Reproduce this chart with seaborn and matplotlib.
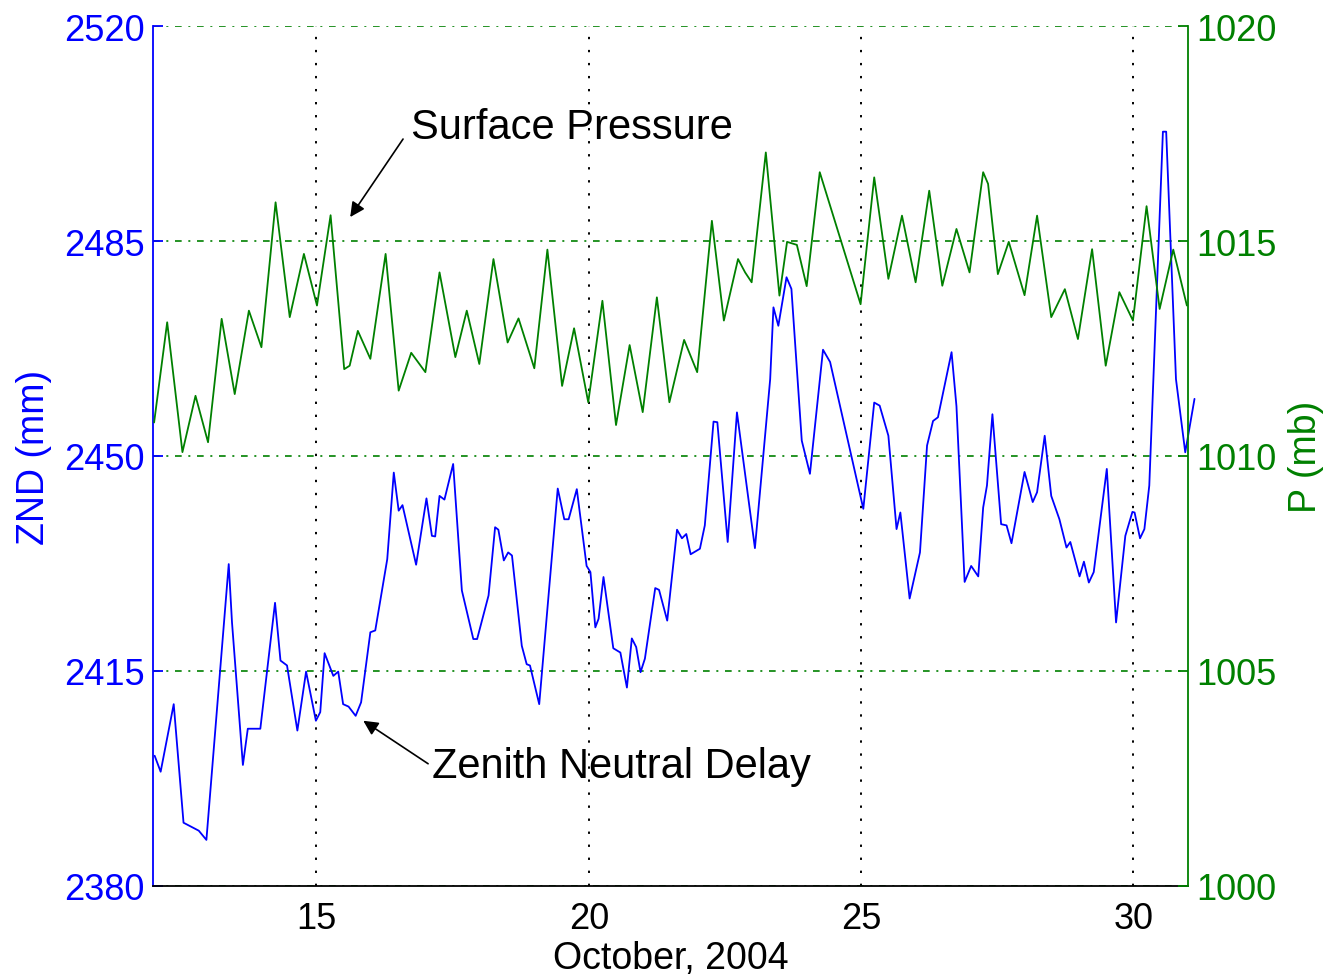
import numpy as np
import pandas as pd
import seaborn as sns
import matplotlib
matplotlib.use("Agg")
import matplotlib.pyplot as plt

# Surface pressure (mb) versus day of October 2004
p_day = [12.02, 12.26, 12.54, 12.78, 13.01, 13.26, 13.50, 13.76, 13.99, 14.25,
         14.51, 14.77, 15.01, 15.26, 15.51, 15.61, 15.76, 15.99, 16.27, 16.51,
         16.74, 17.00, 17.26, 17.55, 17.76, 17.99, 18.25, 18.51, 18.71, 19.00,
         19.24, 19.51, 19.73, 19.99, 20.25, 20.50, 20.75, 20.99, 21.25, 21.48,
         21.75, 21.99, 22.26, 22.48, 22.74, 22.87, 22.99, 23.25, 23.50, 23.64,
         23.82, 24.00, 24.24, 24.99, 25.24, 25.50, 25.75, 26.00, 26.25, 26.49,
         26.75, 26.99, 27.24, 27.33, 27.51, 27.71, 28.00, 28.23, 28.49, 28.74,
         28.98, 29.24, 29.49, 29.74, 29.99, 30.24, 30.48, 30.73, 30.98]
p_mb = [1010.78, 1013.11, 1010.09, 1011.40, 1010.32, 1013.19, 1011.44, 1013.38, 1012.53, 1015.90,
        1013.23, 1014.70, 1013.50, 1015.60, 1012.02, 1012.10, 1012.91, 1012.26, 1014.70, 1011.52,
        1012.40, 1011.95, 1014.27, 1012.30, 1013.38, 1012.14, 1014.58, 1012.64, 1013.20, 1012.04,
        1014.80, 1011.63, 1012.97, 1011.25, 1013.61, 1010.72, 1012.58, 1011.02, 1013.69, 1011.25,
        1012.70, 1011.95, 1015.47, 1013.15, 1014.58, 1014.27, 1014.04, 1017.06, 1013.73, 1014.98,
        1014.91, 1013.95, 1016.60, 1013.53, 1016.48, 1014.12, 1015.59, 1014.04, 1016.17, 1013.96,
        1015.28, 1014.27, 1016.60, 1016.33, 1014.23, 1014.98, 1013.74, 1015.59, 1013.23, 1013.88,
        1012.72, 1014.81, 1012.10, 1013.81, 1013.15, 1015.81, 1013.42, 1014.80, 1013.50]

# Zenith neutral delay (mm) versus day of October 2004
znd_day = [12.03, 12.14, 12.38, 12.56, 12.84, 12.98, 13.39, 13.45, 13.65, 13.74,
           13.97, 14.24, 14.34, 14.46, 14.65, 14.81, 14.99, 15.07, 15.15, 15.31,
           15.40, 15.49, 15.59, 15.72, 15.82, 15.99, 16.08, 16.30, 16.42, 16.51,
           16.58, 16.83, 17.02, 17.12, 17.18, 17.26, 17.35, 17.51, 17.67, 17.88,
           17.95, 18.16, 18.28, 18.34, 18.44, 18.52, 18.59, 18.77, 18.86, 18.92,
           19.09, 19.43, 19.55, 19.63, 19.78, 19.96, 20.03, 20.12, 20.18, 20.27,
           20.45, 20.58, 20.70, 20.79, 20.87, 20.95, 21.03, 21.22, 21.29, 21.44,
           21.62, 21.71, 21.79, 21.87, 22.04, 22.13, 22.29, 22.36, 22.55, 22.72,
           23.05, 23.33, 23.39, 23.48, 23.63, 23.72, 23.91, 24.06, 24.30, 24.43,
           25.04, 25.24, 25.34, 25.50, 25.65, 25.72, 25.89, 26.08, 26.21, 26.32,
           26.41, 26.66, 26.75, 26.90, 27.02, 27.15, 27.24, 27.31, 27.41, 27.57,
           27.67, 27.76, 28.00, 28.15, 28.23, 28.37, 28.49, 28.64, 28.77, 28.84,
           29.01, 29.09, 29.18, 29.27, 29.51, 29.68, 29.85, 29.98, 30.02, 30.12,
           30.20, 30.29, 30.54, 30.60, 30.78, 30.95, 31.12]
znd_mm = [2401.2, 2398.6, 2409.6, 2390.3, 2389.0, 2387.5, 2432.4, 2422.9, 2399.7, 2405.6,
          2405.6, 2426.1, 2416.7, 2415.9, 2405.3, 2414.9, 2406.9, 2408.3, 2417.9, 2414.2,
          2414.9, 2409.6, 2409.2, 2407.7, 2409.9, 2421.3, 2421.6, 2433.2, 2447.3, 2441.1,
          2442.0, 2432.3, 2443.1, 2437.0, 2436.9, 2443.5, 2442.9, 2448.7, 2428.1, 2420.2,
          2420.2, 2427.3, 2438.4, 2438.0, 2433.0, 2434.3, 2433.8, 2419.1, 2416.1, 2415.9,
          2409.6, 2444.7, 2439.7, 2439.7, 2444.6, 2432.1, 2431.1, 2422.1, 2423.5, 2430.3,
          2418.7, 2418.0, 2412.3, 2420.3, 2418.9, 2414.8, 2417.0, 2428.5, 2428.2, 2423.2,
          2438.0, 2436.6, 2437.3, 2434.0, 2434.9, 2438.7, 2455.6, 2455.5, 2436.0, 2457.1,
          2435.0, 2462.5, 2474.2, 2471.2, 2479.1, 2477.2, 2452.5, 2447.1, 2467.3, 2465.3,
          2441.4, 2458.7, 2458.2, 2453.3, 2438.1, 2440.8, 2426.8, 2434.3, 2451.7, 2455.7,
          2456.3, 2466.9, 2458.1, 2429.5, 2432.1, 2430.4, 2441.6, 2445.2, 2456.8, 2438.9,
          2438.7, 2435.8, 2447.4, 2442.5, 2444.1, 2453.3, 2443.5, 2439.7, 2435.1, 2436.0,
          2430.4, 2432.8, 2429.4, 2431.1, 2447.9, 2422.9, 2437.0, 2440.9, 2440.8, 2436.6,
          2438.1, 2445.2, 2502.8, 2502.8, 2462.5, 2450.6, 2459.3]

x_ticks = [15, 20, 25, 30]
znd_ticks = [2380, 2415, 2450, 2485, 2520]
p_ticks = [1000, 1005, 1010, 1015, 1020]

BLUE = "#0000ff"
GREEN = "#008000"

sns.set_style("white")
plt.rcParams["font.family"] = ["Liberation Sans", "DejaVu Sans"]
plt.rcParams["font.size"] = 26
plt.rcParams["text.color"] = "black"

pressure = pd.DataFrame({"day": p_day, "P": p_mb})
delay = pd.DataFrame({"day": znd_day, "ZND": znd_mm})

fig = plt.figure(figsize=(13.26, 9.79), dpi=100)
ax = fig.add_axes([0.1154, 0.094, 0.7805, 0.8784])
ax2 = ax.twinx()

# Left axis: zenith neutral delay
sns.lineplot(data=delay, x="day", y="ZND", ax=ax, color=BLUE, lw=1.3, sort=False)
ax.lines[-1].set_clip_on(False)
ax.set_xlim(12, 31)
ax.set_ylim(2380, 2520)
ax.set_xticks(x_ticks)
ax.set_yticks(znd_ticks)
ax.set_xlabel("October, 2004", fontsize=27, labelpad=3, color="black")
ax.set_ylabel("ZND (mm)", color=BLUE, fontsize=27, labelpad=9)

# Right axis: surface pressure
sns.lineplot(data=pressure, x="day", y="P", ax=ax2, color=GREEN, lw=1.3, sort=False)
ax2.set_ylim(1000, 1020)
ax2.set_yticks(p_ticks)
ax2.set_ylabel("P (mb)", color=GREEN, fontsize=27, labelpad=8)

# Grid: dotted black at the day ticks, dash-dot green at the value ticks
ax.set_axisbelow(True)
ax.xaxis.grid(True, color="black", linestyle=(0, (1.2, 5.5)), lw=1.4)
ax.yaxis.grid(True, color=GREEN, linestyle=(0, (4, 4, 1.2, 4)), lw=1.2)
ax2.grid(False)

# Spines and ticks
for side in ("top", "right"):
    ax.spines[side].set_visible(False)
for side in ("top", "left", "bottom"):
    ax2.spines[side].set_visible(False)
ax.spines["left"].set_color(BLUE)
ax.spines["bottom"].set_color("black")
ax2.spines["right"].set_color(GREEN)
for sp in (ax.spines["left"], ax.spines["bottom"], ax2.spines["right"]):
    sp.set_linewidth(1.3)

ax.tick_params(axis="y", direction="in", length=7, width=1.3, colors=BLUE,
               labelsize=26, pad=6)
ax.tick_params(axis="x", direction="in", length=7, width=1.3, colors="black",
               labelsize=26, pad=11)
ax2.tick_params(axis="y", direction="in", length=7, width=1.3, colors=GREEN,
                labelsize=26, pad=6)

# Callouts naming the two series
arrow = dict(arrowstyle="-|>", color="black", lw=1.2, mutation_scale=22,
             shrinkA=0, shrinkB=0)
ax.annotate("", xy=(15.62, 2488.9), xytext=(16.59, 2501.6), arrowprops=arrow)
ax.text(16.74, 2503.6, "Surface Pressure", fontsize=30, va="center", ha="left",
        color="black")
ax.annotate("", xy=(15.86, 2406.9), xytext=(17.05, 2399.9), arrowprops=arrow)
ax.text(17.13, 2399.5, "Zenith Neutral Delay", fontsize=30, va="center", ha="left",
        color="black")

fig.savefig("out.png", dpi=100)
